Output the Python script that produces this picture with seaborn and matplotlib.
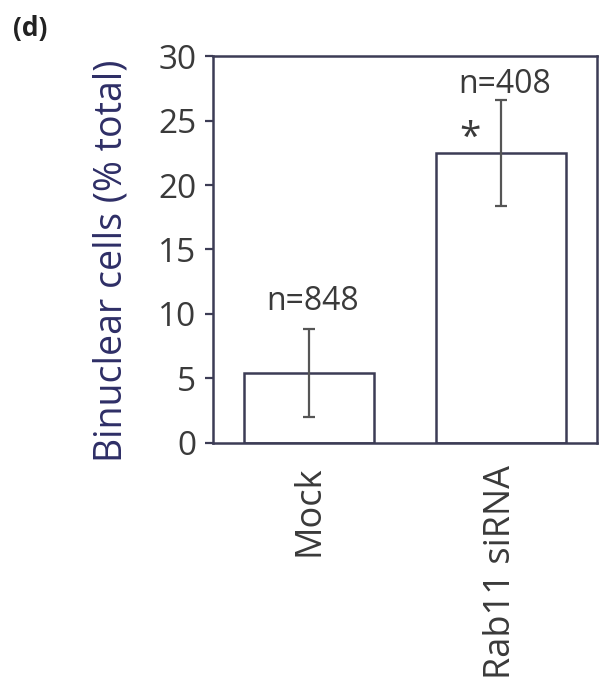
import matplotlib
matplotlib.use("Agg")
import matplotlib.pyplot as plt
import pandas as pd
import seaborn as sns

# Values
groups = ["Mock", "Rab11 siRNA"]
binuclear_pct = [5.4, 22.5]
err = [3.4, 4.1]
n_labels = ["n=848", "n=408"]
n_label_y = [11.0, 27.8]
signif = ["", "*"]

df = pd.DataFrame({"group": groups, "pct": binuclear_pct})

sns.set_theme(style="white")
plt.rcParams["font.family"] = ["Open Sans", "DejaVu Sans"]

text_col = "#3a3a3a"
line_col = "#3c3c55"

fig = plt.figure(figsize=(5.99, 6.83), dpi=100)
ax = fig.add_axes([0.3556, 0.3514, 0.6411, 0.5666])

sns.barplot(data=df, x="group", y="pct", color="white", edgecolor=line_col,
            linewidth=1.8, width=0.68, errorbar=None, ax=ax)
ax.errorbar(range(len(groups)), binuclear_pct, yerr=err, fmt="none",
            ecolor="#555555", elinewidth=1.6, capsize=4.3, capthick=1.6)

ax.set_ylim(0, 30)
ax.set_xlim(-0.5, 1.5)
ax.set_yticks(range(0, 31, 5))
ax.set_xlabel("")
ax.set_ylabel("Binuclear cells (% total)", fontsize=27, color="#2e2e66")
ax.yaxis.set_label_coords(-0.215, 0.47)

for s in ax.spines.values():
    s.set_visible(True)
    s.set_color(line_col)
    s.set_linewidth(1.8)

ax.tick_params(axis="y", direction="out", length=6, width=1.6, color=line_col,
               labelsize=24, labelcolor=text_col, pad=6, left=True)
ax.tick_params(axis="x", length=0, labelsize=26, labelcolor=text_col, pad=16)
for lbl in ax.get_xticklabels():
    lbl.set_rotation(90)
    lbl.set_va("top")
    lbl.set_ha("center")

# n counts and significance marks
for i, v in enumerate(binuclear_pct):
    ax.text(i + 0.02, n_label_y[i], n_labels[i], ha="center", va="center",
            fontsize=23, color=text_col)
    if signif[i]:
        ax.text(i - 0.16, v - 0.4, signif[i], ha="center", va="bottom",
                fontsize=28, color=text_col)

fig.text(0.022, 0.978, "(d)", fontsize=19, fontweight="bold", color="#222222",
         ha="left", va="top")

fig.savefig("out.png", dpi=100, facecolor="white")
